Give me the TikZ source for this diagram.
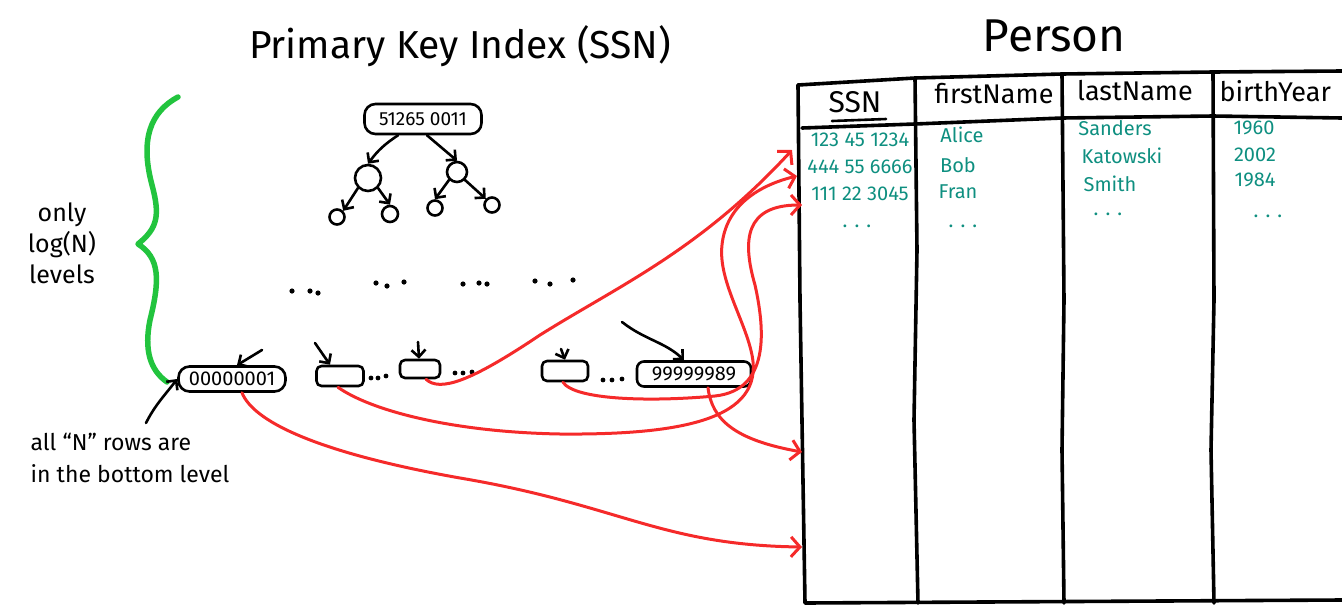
\documentclass[tikz,border=0pt]{standalone}
\usepackage{fontspec}
\setmainfont{Fira Sans}
\usetikzlibrary{arrows.meta}
\definecolor{inkred}{HTML}{F52A2A}
\definecolor{inkgreen}{HTML}{22C43E}
\definecolor{inkteal}{HTML}{0E8F80}
\tikzset{
  ink/.style={line width=2.6pt, line cap=round, line join=round},
  pointer/.style={ink, -{Straight Barb[length=7pt,width=14pt,line width=2.6pt]}},
  link/.style={line width=3pt, inkred, line cap=round,
    -{Straight Barb[length=9pt,width=20pt,line width=3pt]}},
  keybox/.style={draw, ink, rounded corners=11pt, inner sep=1pt,
    font=\fontsize{20}{22}\selectfont},
  leafbox/.style={draw, ink, rounded corners=5pt, inner sep=0pt},
  treenode/.style={draw, ink, circle, inner sep=0pt},
  tline/.style={line width=3.6pt, line cap=round, line join=round},
  hdr/.style={font=\fontsize{27}{30}\selectfont},
  cell/.style={font=\fontsize{20}{22}\selectfont, text=inkteal},
  note/.style={font=\fontsize{25}{31}\selectfont, align=left}
}
\begin{document}
\begin{tikzpicture}[x=1pt,y=-1pt]
\useasboundingbox (0,0) rectangle (1342,606);
\clip (0,0) rectangle (1342,606);

% titles
\node[font=\fontsize{39}{44}\selectfont] (title) at (460,46) {Primary Key Index (SSN)};
\node[font=\fontsize{46}{50}\selectfont] (tabletitle) at (1054,36) {Person};

% ---------------- B-tree ----------------
\node[keybox, minimum width=117pt, minimum height=30pt, font=\fontsize{19}{21}\selectfont] (root) at (423,119) {51265 0011};
\node[treenode, minimum size=26pt] (cl) at (368,178) {};
\node[treenode, minimum size=20pt] (cr) at (457,172) {};
\node[treenode, minimum size=15pt] (g1) at (337,217) {};
\node[treenode, minimum size=16pt] (g2) at (390,214) {};
\node[treenode, minimum size=15pt] (g3) at (435,208) {};
\node[treenode, minimum size=15pt] (g4) at (492,205) {};
\draw[pointer] ([xshift=-25pt]root.south) to[bend right=10] (cl.north);
\draw[pointer] ([xshift=4pt]root.south) -- (cr.north);
\draw[pointer] (cl.south west) -- (g1.north east);
\draw[pointer] (cl.south east) -- (g2.north);
\draw[pointer] (cr.south west) -- (g3.north);
\draw[pointer] (cr.south east) -- (g4.north west);

% intermediate levels
\foreach \p in {(292,291),(310,291),(318,293),(376,283),(387,286),(404,282),
                (463,284),(479,283),(487,284),(535,281),(550,284),(573,280)}
  {\fill \p circle (2.6pt);}

% ---------------- leaf level ----------------
\node[keybox, minimum width=107pt, minimum height=25pt] (leafA) at (232,379) {00000001};
\node[leafbox, minimum width=47pt, minimum height=20pt] (leafB) at (340,376) {};
\node[leafbox, minimum width=40pt, minimum height=18pt] (leafC) at (420,369) {};
\node[leafbox, minimum width=46pt, minimum height=20pt] (leafD) at (565,371) {};
\node[keybox, rounded corners=7pt, minimum width=114pt, minimum height=25pt] (leafE) at (694,374) {99999989};
\foreach \p in {(371,378),(378,378),(386,376),(455,373),(463,373),(472,372),
                (603,380),(612,380),(622,379)}
  {\fill \p circle (2.4pt);}

\coordinate (inA) at (262,350);
\coordinate (inB) at (315,343);
\coordinate (inC) at (418,342);
\coordinate (inD) at (561,349);
\coordinate (inE) at (622,322);
\draw[pointer] (inA) -- ([xshift=5pt]leafA.north);
\draw[pointer] (inB) -- ([xshift=-10pt]leafB.north);
\draw[pointer] (inC) -- ([xshift=-1pt]leafC.north);
\draw[pointer] (inD) -- (leafD.north);
\draw[pointer] (inE) .. controls (645,340) and (665,342) .. ([xshift=-10pt]leafE.north);

% ---------------- side notes ----------------
\draw[line width=5.5pt, inkgreen, line cap=round, line join=round]
  (178,97) .. controls (150,112) and (140,140) .. (152,185)
  .. controls (160,215) and (158,228) .. (138,244)
  .. controls (160,258) and (160,280) .. (150,320)
  .. controls (144,350) and (150,370) .. (167,382);
\node[note, align=center] (levels) at (62,243) {only\\log(N)\\levels};

\node[note, font=\fontsize{23}{32}\selectfont] (rows) at (130,458) {all “N” rows are\\in the bottom level};
\coordinate (rowsTip) at (146,423);
\draw[pointer] (rowsTip) .. controls (155,405) and (165,395) .. (leafA.west);

% ---------------- Person table ----------------
\coordinate (tl) at (798,85);
\draw[tline] (tl) -- (915,78) -- (1062,74) -- (1213,72) -- (1342,71);
\draw[tline] (802,128) -- (915,124) -- (1062,118) -- (1213,116) -- (1342,118);
\draw[tline] (tl) -- (800,300) -- (805,603) -- (1342,600);
\draw[tline] (915,78) -- (917,250) -- (914,420) -- (918,603);
\draw[tline] (1062,74) -- (1064,300) -- (1062,450) -- (1064,603);
\draw[tline] (1213,72) -- (1214,300) -- (1211,450) -- (1214,603);

\node[hdr, font=\fontsize{30}{32}\selectfont] (hSSN) at (855,102) {SSN};
\draw[line width=2.6pt, line cap=round] (832,121) -- (886,119);
\node[hdr] (hFirst) at (994,94) {firstName};
\node[hdr] (hLast) at (1135,91) {lastName};
\node[hdr, anchor=west] (hBirth) at (1216,91) {birthYear};

\node[cell] (s1) at (860,140) {123 45 1234};
\node[cell] (s2) at (860,167) {444 55 6666};
\node[cell] (s3) at (860,194) {111 22 3045};
\node[cell] (s4) at (857,226) {. . .};
\node[cell] (f1) at (962,135) {Alice};
\node[cell] (f2) at (958,165) {Bob};
\node[cell] (f3) at (958,192) {Fran};
\node[cell] (f4) at (963,226) {. . .};
\node[cell] (l1) at (1115,128) {Sanders};
\node[cell] (l2) at (1122,156) {Katowski};
\node[cell] (l3) at (1110,184) {Smith};
\node[cell] (l4) at (1108,214) {. . .};
\node[cell] (b1) at (1254,128) {1960};
\node[cell] (b2) at (1255,155) {2002};
\node[cell] (b3) at (1255,180) {1984};
\node[cell] (b4) at (1268,216) {. . .};

\coordinate (row1) at (792,150);
\coordinate (row2) at (797,176);
\coordinate (row3) at (802,205);
\coordinate (rowX) at (802,452);
\coordinate (rowY) at (802,547);

% ---------------- row pointers ----------------
\draw[link] ([xshift=6pt]leafC.south)
  .. controls (440,392) and (470,382) .. (540,335)
  .. controls (620,285) and (700,250) .. (row1);
\draw[link] ([xshift=-2pt]leafB.south)
  .. controls (370,410) and (450,432) .. (560,434)
  .. controls (680,435) and (765,420) .. (752,355)
  .. controls (745,320) and (718,280) .. (722,245)
  .. controls (726,205) and (760,185) .. (row2);
\draw[link] ([xshift=-2pt]leafD.south)
  .. controls (575,400) and (650,402) .. (715,396)
  .. controls (770,390) and (765,330) .. (755,285)
  .. controls (742,240) and (745,205) .. (row3);
\draw[link] ([xshift=14pt]leafE.south)
  .. controls (712,420) and (735,440) .. (rowX);
\draw[link] ([xshift=10pt]leafA.south)
  .. controls (255,425) and (330,455) .. (460,478)
  .. controls (620,505) and (660,545) .. (rowY);
\end{tikzpicture}
\end{document}
